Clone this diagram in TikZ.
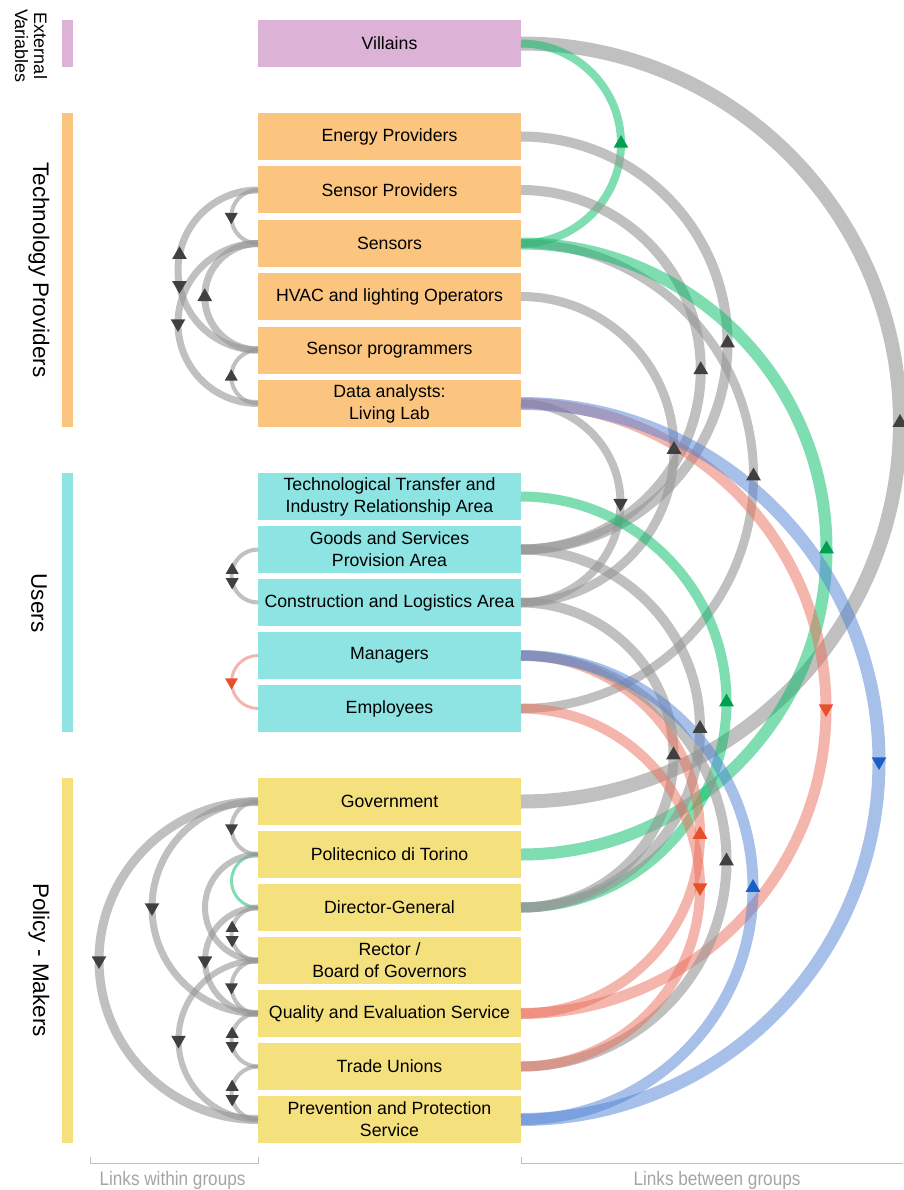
\documentclass[tikz,border=0pt]{standalone}
\usepackage{fontspec}
\setmainfont{Liberation Sans}
\newfontfamily\narrowfont[FakeStretch=0.88]{Liberation Sans}
\usetikzlibrary{calc,shapes.geometric}

\definecolor{pinkbox}{RGB}{220,178,214}
\definecolor{orangebox}{RGB}{251,197,127}
\definecolor{cyanbox}{RGB}{142,227,227}
\definecolor{yellowbox}{RGB}{245,224,126}
\definecolor{greyband}{RGB}{150,150,150}
\definecolor{greenband}{RGB}{0,190,100}
\definecolor{salmonband}{RGB}{235,110,90}
\definecolor{blueband}{RGB}{80,130,215}
\definecolor{greytip}{RGB}{64,64,64}
\definecolor{greentip}{RGB}{0,160,80}
\definecolor{salmontip}{RGB}{232,80,42}
\definecolor{bluetip}{RGB}{26,95,200}
\definecolor{labelgrey}{RGB}{165,165,165}
\definecolor{bracketgrey}{RGB}{190,190,190}

\newcommand\boxfont{\fontsize{17.7}{22}\selectfont}
\newcommand\grpfont{\fontsize{22.5}{27}\selectfont}
\newcommand\extfont{\fontsize{18}{19}\selectfont}
\newcommand\notefont{\narrowfont\fontsize{19.5}{22}\selectfont}

% semicircle on the right of two boxes (upper box first)
\newcommand\linkR[3]{\draw[#3] let \p1=(#1.east), \p2=(#2.east), \n1={(\y1-(\y2))/2} in
  (\p1) arc[start angle=90, end angle=-90, radius={\n1*1pt}];}
% semicircle on the left of two boxes (upper box first)
\newcommand\linkL[3]{\draw[#3] let \p1=(#1.west), \p2=(#2.west), \n1={(\y1-(\y2))/2} in
  (\p1) arc[start angle=90, end angle=270, radius={\n1*1pt}];}
% direction marker on such a semicircle, placed at a given angle
\newcommand\tipR[4]{\path let \p1=(#1.east), \p2=(#2.east), \n1={(\y1-(\y2))/2} in
  node[#3] at ({\x1+\n1*cos(#4)}, {(\y1+(\y2))/2+\n1*sin(#4)}) {};}
\newcommand\tipL[4]{\path let \p1=(#1.west), \p2=(#2.west), \n1={(\y1-(\y2))/2} in
  node[#3] at ({\x1+\n1*cos(#4)}, {(\y1+(\y2))/2+\n1*sin(#4)}) {};}

\begin{document}
\begin{tikzpicture}[x=1pt,y=-1pt,
  box/.style={rectangle, inner sep=0pt, outer sep=0pt, minimum width=263pt,
    minimum height=47pt, align=center, font=\boxfont},
  bar/.style={rectangle, inner sep=0pt, outer sep=0pt, minimum width=11pt},
  gband/.style={draw=greyband, draw opacity=0.6, line width=#1},
  nband/.style={draw=greenband, draw opacity=0.5, line width=#1},
  sband/.style={draw=salmonband, draw opacity=0.5, line width=#1},
  bband/.style={draw=blueband, draw opacity=0.5, line width=#1},
  arrowtri/.style={regular polygon, regular polygon sides=3, inner sep=0pt,
    outer sep=0pt, minimum size=17pt},
  small/.style={minimum size=15pt},
  gtip/.style={arrowtri, fill=greytip},
  ntip/.style={arrowtri, fill=greentip},
  stip/.style={arrowtri, fill=salmontip},
  btip/.style={arrowtri, fill=bluetip},
  tipdown/.style={shape border rotate=180},
  bracket/.style={draw=bracketgrey, line width=1pt},
]
\useasboundingbox (0,0) rectangle (903,1190);
\fill[white] (0,0) rectangle (903,1190);

% ---------- group bars and titles ----------
\node[bar, fill=pinkbox, minimum height=47pt] (gext) at (67.5,43.5) {};
\node[bar, fill=orangebox, minimum height=314pt] (gtech) at (67.5,270) {};
\node[bar, fill=cyanbox, minimum height=259pt] (gusers) at (67.5,602.5) {};
\node[bar, fill=yellowbox, minimum height=365pt] (gpolicy) at (67.5,960.5) {};

\node[rotate=-90, align=center, font=\extfont] (text) at (31,46) {External\\Variables};
\node[rotate=-90, font=\grpfont] (ttech) at (39,270) {Technology Providers};
\node[rotate=-90, font=\grpfont] (tusers) at (39,603) {Users};
\node[rotate=-90, font=\grpfont] (tpolicy) at (39,960) {Policy - Makers};

% ---------- actors ----------
\node[box, fill=pinkbox] (villains) at (389.5,43.5) {Villains};

\node[box, fill=orangebox] (energy) at (389.5,136.5) {Energy Providers};
\node[box, fill=orangebox] (sprov) at (389.5,190) {Sensor Providers};
\node[box, fill=orangebox] (sensors) at (389.5,243.5) {Sensors};
\node[box, fill=orangebox] (hvac) at (389.5,296.5) {HVAC and lighting Operators};
\node[box, fill=orangebox] (prog) at (389.5,350) {Sensor programmers};
\node[box, fill=orangebox] (data) at (389.5,403.5) {Data analysts:\\Living Lab};

\node[box, fill=cyanbox] (tt) at (389.5,496.5) {Technological Transfer and\\Industry Relationship Area};
\node[box, fill=cyanbox] (goods) at (389.5,549.5) {Goods and Services\\Provision Area};
\node[box, fill=cyanbox] (constr) at (389.5,602.5) {Construction and Logistics Area};
\node[box, fill=cyanbox] (managers) at (389.5,655.5) {Managers};
\node[box, fill=cyanbox] (employees) at (389.5,708.5) {Employees};

\node[box, fill=yellowbox] (gov) at (389.5,801.5) {Government};
\node[box, fill=yellowbox] (poli) at (389.5,854.5) {Politecnico di Torino};
\node[box, fill=yellowbox] (dg) at (389.5,907.5) {Director-General};
\node[box, fill=yellowbox] (rector) at (389.5,960.5) {Rector /\\Board of Governors};
\node[box, fill=yellowbox] (quality) at (389.5,1013.5) {Quality and Evaluation Service};
\node[box, fill=yellowbox] (trade) at (389.5,1066.5) {Trade Unions};
\node[box, fill=yellowbox] (prev) at (389.5,1119.5) {Prevention and Protection\\Service};

% ---------- links between groups ----------
\linkR{villains}{gov}{gband=14pt}
\linkR{villains}{sensors}{nband=8pt}
\linkR{energy}{goods}{gband=10pt}
\linkR{sprov}{goods}{gband=10pt}
\linkR{hvac}{constr}{gband=9pt}
\linkR{sensors}{employees}{gband=9pt}
\linkR{sensors}{poli}{nband=12pt}
\linkR{data}{constr}{gband=8pt}
\linkR{data}{quality}{sband=11pt}
\linkR{data}{prev}{bband=13pt}
\linkR{tt}{dg}{nband=10pt}
\linkR{goods}{dg}{gband=10pt}
\linkR{constr}{dg}{gband=10pt}
\linkR{managers}{quality}{sband=10pt}
\linkR{managers}{trade}{gband=10pt}
\linkR{managers}{prev}{bband=11pt}
\linkR{employees}{trade}{sband=10pt}

% ---------- links within groups ----------
\linkL{sprov}{sensors}{gband=4pt}
\linkL{sprov}{prog}{gband=7pt}
\linkL{sensors}{prog}{gband=7pt}
\linkL{sensors}{data}{gband=7pt}
\linkL{prog}{data}{gband=4pt}

\linkL{goods}{constr}{gband=4pt}
\linkL{managers}{employees}{sband=3pt}

\linkL{gov}{poli}{gband=4pt}
\linkL{poli}{dg}{nband=3pt}
\linkL{dg}{rector}{gband=4pt}
\linkL{rector}{quality}{gband=4pt}
\linkL{quality}{trade}{gband=4pt}
\linkL{trade}{prev}{gband=4pt}
\linkL{gov}{prev}{gband=9pt}
\linkL{gov}{quality}{gband=7pt}
\linkL{poli}{rector}{gband=6pt}
\linkL{dg}{quality}{gband=6pt}
\linkL{rector}{prev}{gband=6pt}

% ---------- direction markers, right side ----------
\tipR{villains}{gov}{gtip}{0}
\tipR{villains}{sensors}{ntip}{0}
\tipR{energy}{goods}{gtip}{0}
\tipR{sprov}{goods}{gtip}{0}
\tipR{hvac}{constr}{gtip}{0}
\tipR{sensors}{employees}{gtip}{0}
\tipR{sensors}{poli}{ntip}{0}
\tipR{data}{constr}{gtip,tipdown}{0}
\tipR{data}{quality}{stip,tipdown}{0}
\tipR{data}{prev}{btip,tipdown}{0}
\tipR{tt}{dg}{ntip}{0}
\tipR{goods}{dg}{gtip}{0}
\tipR{constr}{dg}{gtip}{0}
\tipR{managers}{quality}{stip}{0}
\tipR{managers}{trade}{gtip}{0}
\tipR{managers}{prev}{btip}{0}
\tipR{employees}{trade}{stip,tipdown}{0}

% ---------- direction markers, left side ----------
\tipL{sprov}{sensors}{gtip,tipdown,small}{180}
\tipL{sprov}{prog}{gtip}{169}
\tipL{sprov}{prog}{gtip,tipdown}{191}
\tipL{sensors}{prog}{gtip}{180}
\tipL{sensors}{data}{gtip,tipdown}{180}
\tipL{prog}{data}{gtip,small}{180}

\tipL{goods}{constr}{gtip,small}{167}
\tipL{goods}{constr}{gtip,tipdown,small}{193}
\tipL{managers}{employees}{stip,tipdown,small}{180}

\tipL{gov}{poli}{gtip,tipdown,small}{180}
\tipL{dg}{rector}{gtip,small}{167}
\tipL{dg}{rector}{gtip,tipdown,small}{193}
\tipL{rector}{quality}{gtip,tipdown,small}{180}
\tipL{quality}{trade}{gtip,small}{167}
\tipL{quality}{trade}{gtip,tipdown,small}{193}
\tipL{trade}{prev}{gtip,small}{167}
\tipL{trade}{prev}{gtip,tipdown,small}{193}
\tipL{gov}{prev}{gtip,tipdown}{180}
\tipL{gov}{quality}{gtip,tipdown}{180}
\tipL{dg}{quality}{gtip,tipdown}{180}
\tipL{rector}{prev}{gtip,tipdown}{180}

% ---------- captions under the links ----------
\draw[bracket] (90,1157) -- (90,1163) -- (258,1163) -- (258,1157);
\draw[bracket] (521,1157) -- (521,1163) -- (903,1163);
\node[font=\notefont, text=labelgrey] (within) at (172.5,1180) {Links within groups};
\node[font=\notefont, text=labelgrey] (between) at (717,1180) {Links between groups};
\end{tikzpicture}
\end{document}
